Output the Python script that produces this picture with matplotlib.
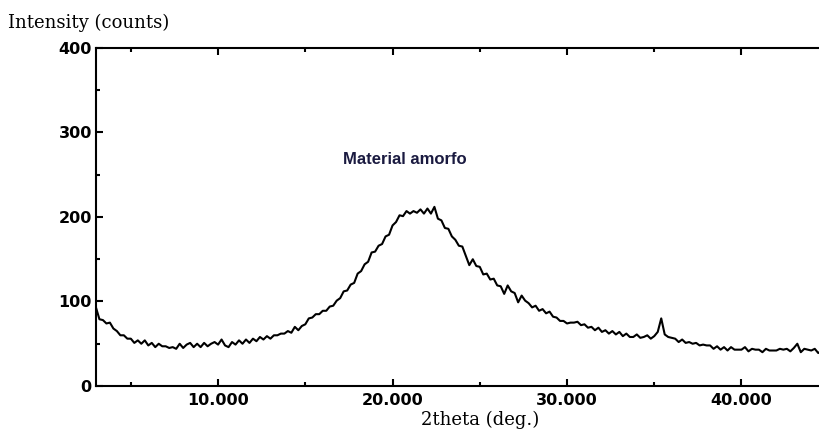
import matplotlib

matplotlib.use("Agg")
import matplotlib.pyplot as plt
import numpy as np
from matplotlib.ticker import FixedLocator, FormatStrFormatter

# 2theta grid, 0.2 deg steps from 3.0 to 44.6
two_theta = np.linspace(3.0, 44.6, 209)

# intensity (counts), five values per degree
counts = [
    93, 79, 78, 74, 75,
    68, 65, 60, 60, 56,
    56, 51, 54, 50, 54,
    48, 51, 46, 50, 47,
    47, 45, 46, 44, 50,
    45, 49, 51, 46, 50,
    46, 51, 47, 50, 52,
    49, 55, 48, 46, 52,
    49, 54, 50, 55, 51,
    56, 53, 58, 55, 59,
    56, 60, 60, 62, 62,
    65, 63, 70, 66, 71,
    73, 80, 81, 85, 85,
    89, 89, 94, 95, 101,
    104, 112, 113, 120, 122,
    133, 136, 144, 147, 158,
    159, 166, 168, 177, 179,
    190, 194, 202, 201, 207,
    204, 207, 205, 209, 204,
    210, 204, 212, 198, 196,
    187, 186, 177, 173, 166,
    165, 154, 143, 150, 142,
    141, 132, 133, 126, 127,
    119, 118, 109, 119, 112,
    110, 99, 107, 101, 98,
    93, 95, 89, 91, 86,
    88, 82, 81, 77, 77,
    74, 75, 75, 76, 72,
    73, 69, 70, 66, 69,
    64, 66, 62, 65, 61,
    64, 59, 62, 58, 58,
    61, 57, 58, 60, 56,
    59, 64, 80, 61, 58,
    57, 56, 52, 55, 51,
    52, 50, 51, 48, 49,
    48, 48, 44, 47, 43,
    46, 42, 46, 43, 43,
    43, 46, 41, 44, 43,
    43, 40, 44, 42, 42,
    42, 44, 43, 44, 41,
    45, 50, 40, 44, 43,
    42, 44, 39, 42,
]

x_major = [10, 20, 30, 40]
x_minor = [5, 15, 25, 35, 45]
y_major = [0, 100, 200, 300, 400]
y_minor = [50, 150, 250, 350]

annotation = "Material amorfo"
annot_pos = (20.7, 268)


def main():
    fig = plt.figure(figsize=(8.2, 4.32), dpi=100)
    ax = fig.add_axes([0.117, 0.1065, 0.883, 0.7824])

    ax.plot(two_theta, counts, color="black", linewidth=1.5)

    ax.set_xlim(3.0, 44.5)
    ax.set_ylim(0, 400)

    ax.xaxis.set_major_locator(FixedLocator(x_major))
    ax.xaxis.set_minor_locator(FixedLocator(x_minor))
    ax.yaxis.set_major_locator(FixedLocator(y_major))
    ax.yaxis.set_minor_locator(FixedLocator(y_minor))
    ax.xaxis.set_major_formatter(FormatStrFormatter("%.3f"))

    ax.spines["right"].set_visible(False)
    for side in ("left", "bottom", "top"):
        ax.spines[side].set_linewidth(1.5)

    ax.tick_params(axis="both", which="both", direction="in", width=1.5,
                   top=True, right=False, labelsize=11.5)
    ax.tick_params(axis="both", which="major", length=5)
    ax.tick_params(axis="both", which="minor", length=3)
    ax.tick_params(axis="x", which="major", pad=5)
    ax.tick_params(axis="y", which="major", pad=3)
    for lbl in ax.get_xticklabels() + ax.get_yticklabels():
        lbl.set_family("DejaVu Sans")
        lbl.set_fontweight("semibold")

    ax.text(annot_pos[0], annot_pos[1], annotation, ha="center", va="center",
            fontsize=12, fontweight="bold", family="Liberation Sans", color="#1a1a40")

    fig.text(8 / 820, 1 - 23 / 432, "Intensity (counts)", ha="left", va="center",
             fontsize=13, family="DejaVu Serif")
    fig.text(480 / 820, 1 - 411 / 432, "2theta (deg.)", ha="center", va="top",
             fontsize=13, family="DejaVu Serif")

    fig.savefig("out.png", dpi=100)
    plt.close(fig)


if __name__ == "__main__":
    main()
